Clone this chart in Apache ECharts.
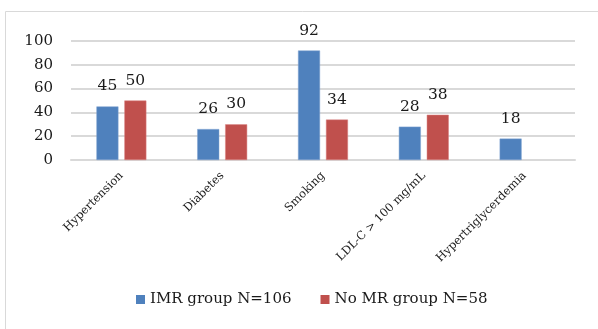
<!DOCTYPE html>
<html>
<head>
<meta charset="utf-8">
<style>
  html, body { margin: 0; padding: 0; background: #fff; }
  #chart { width: 598px; height: 329px; }
</style>
<script src="https://cdn.jsdelivr.net/npm/echarts@6/dist/echarts.min.js"></script>
</head>
<body>
<div id="chart"></div>
<script>
// Risk factor counts per group
const categories = ['Hypertension', 'Diabetes', 'Smoking', 'LDL-C > 100 mg/mL', 'Hypertriglycerdemia'];
const imrGroup = [45, 26, 92, 28, 18];
const noMrGroup = [50, 30, 34, 38, null];
const yTicks = [0, 20, 40, 60, 80, 100];
const seriesNames = ['IMR group N=106', 'No MR group N=58'];

const serif = '"DejaVu Serif", "Liberation Serif", serif';

const chart = echarts.init(document.getElementById('chart'), null, { renderer: 'canvas' });

const valueLabel = {
  show: true,
  position: 'top',
  distance: 12,
  fontFamily: serif,
  fontSize: 15.5,
  color: '#1a1a1a'
};

chart.setOption({
  animation: false,
  graphic: [{
    type: 'rect',
    shape: { x: 5.5, y: 11.5, width: 620, height: 340 },
    style: { fill: 'none', stroke: '#d9d9d9', lineWidth: 1 },
    silent: true
  }],
  grid: { left: 71, right: 23, top: 41, bottom: 169 },
  legend: {
    bottom: 17,
    left: 131,
    itemWidth: 9,
    itemHeight: 9,
    itemGap: 29,
    icon: 'rect',
    itemStyle: { borderWidth: 0 },
    textStyle: { fontFamily: serif, fontSize: 15, color: '#1a1a1a' },
    data: seriesNames
  },
  xAxis: {
    type: 'category',
    data: categories,
    axisLine: { lineStyle: { color: '#d9d9d9', width: 2 } },
    axisTick: { show: false },
    axisLabel: {
      interval: 0,
      rotate: 45,
      margin: 14,
      fontFamily: serif,
      fontSize: 11.5,
      color: '#1a1a1a'
    }
  },
  yAxis: {
    type: 'value',
    min: yTicks[0],
    max: yTicks[yTicks.length - 1],
    interval: 20,
    axisLine: { show: false },
    axisTick: { show: false },
    axisLabel: { margin: 18, fontFamily: serif, fontSize: 15, color: '#1a1a1a' },
    splitLine: { lineStyle: { color: '#d9d9d9', width: 2 } }
  },
  series: [
    {
      name: seriesNames[0],
      type: 'bar',
      data: imrGroup,
      barWidth: 22,
      barGap: '27%',
      itemStyle: { color: '#4f81bd', borderColor: '#7ea3d1', borderWidth: 0.5 },
      label: valueLabel
    },
    {
      name: seriesNames[1],
      type: 'bar',
      data: noMrGroup,
      barWidth: 22,
      itemStyle: { color: '#c0504d', borderColor: '#d98280', borderWidth: 0.5 },
      label: valueLabel
    }
  ]
});
</script>
</body>
</html>
